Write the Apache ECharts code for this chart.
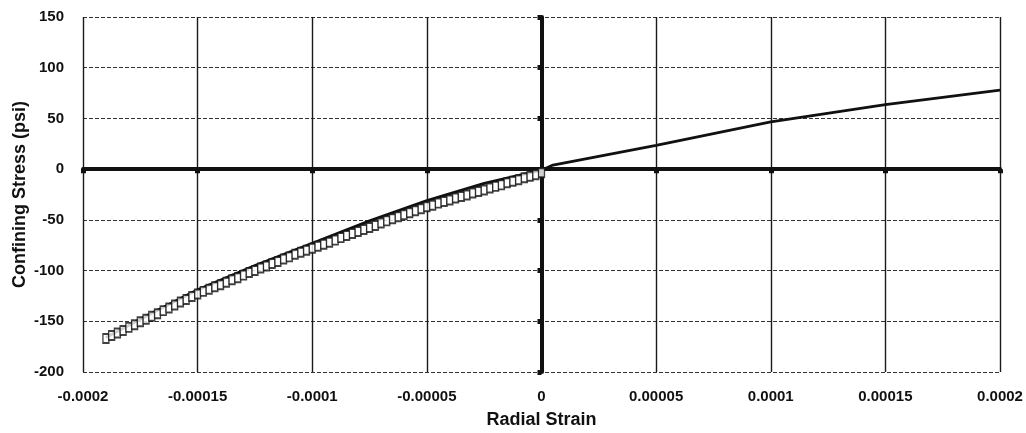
<!DOCTYPE html>
<html>
<head>
<meta charset="utf-8">
<script src="https://cdn.jsdelivr.net/npm/echarts@6/dist/echarts.min.js"></script>
<style>
  html, body { margin: 0; padding: 0; background: #fff; }
  #chart { width: 1026px; height: 433px; }
</style>
</head>
<body>
<div id="chart"></div>
<script>
// Tick labels for both axes
const xTickLabels = ['-0.0002', '-0.00015', '-0.0001', '-0.00005', '0', '0.00005', '0.0001', '0.00015', '0.0002'];
const yTickLabels = ['-200', '-150', '-100', '-50', '0', '50', '100', '150'];

// Fitted curve: radial strain vs confining stress (psi)
const curveStrain = [-0.00019, -0.00017, -0.00015, -0.000125, -0.0001, -0.000075, -0.00005, -0.000025, 0, 0.000005, 0.00005, 0.0001, 0.00015, 0.0002];
const curveStress = [-166, -142, -119, -95, -73, -51, -31, -14, -1, 4, 23.5, 46.5, 63.5, 78];

// Measured points (square markers)
const testStrain = [
  -0.00019, -0.0001875, -0.000185, -0.0001825, -0.00018, -0.0001775, -0.000175, -0.0001725,
  -0.00017, -0.0001675, -0.000165, -0.0001625, -0.00016, -0.0001575, -0.000155, -0.0001525,
  -0.00015, -0.0001475, -0.000145, -0.0001425, -0.00014, -0.0001375, -0.000135, -0.0001325,
  -0.00013, -0.0001275, -0.000125, -0.0001225, -0.00012, -0.0001175, -0.000115, -0.0001125,
  -0.00011, -0.0001075, -0.000105, -0.0001025, -0.0001, -0.0000975, -0.000095, -0.0000925,
  -0.00009, -0.0000875, -0.000085, -0.0000825, -0.00008, -0.0000775, -0.000075, -0.0000725,
  -0.00007, -0.0000675, -0.000065, -0.0000625, -0.00006, -0.0000575, -0.000055, -0.0000525,
  -0.00005, -0.0000475, -0.000045, -0.0000425, -0.00004, -0.0000375, -0.000035, -0.0000325,
  -0.00003, -0.0000275, -0.000025, -0.0000225, -0.00002, -0.0000175, -0.000015, -0.0000125,
  -0.00001, -0.0000075, -0.000005, -0.0000025, 0
];
const testStress = [
  -167, -164, -161.5, -159, -156, -153.5, -150.5, -148,
  -145, -142.5, -139.5, -137, -134, -131, -128.5, -125.5,
  -123, -120.5, -118.5, -116, -114, -111.5, -109, -107,
  -104.5, -102, -100, -97.5, -95.5, -93, -91, -88.5,
  -86.5, -84, -82, -80, -78, -76, -74, -72,
  -70, -67.5, -65.5, -63.5, -61.5, -59.5, -57.5, -55.5,
  -53, -51, -49, -47, -45, -43, -41, -39,
  -37, -35.5, -33.5, -32, -30.5, -28.5, -27, -25.5,
  -23.5, -22, -20.5, -18.5, -17, -15.5, -13.5, -12,
  -10.5, -8.5, -7, -5.5, -3.5
];

const X_MIN = -0.0002, X_MAX = 0.0002, X_STEP = 0.00005;
const Y_MIN = -200, Y_MAX = 150, Y_STEP = 50;

const FONT = '"Liberation Sans", Arial, Helvetica, sans-serif';
const INK = '#111';

function xLabel(v) {
  const i = Math.round((v - X_MIN) / X_STEP);
  return xTickLabels[i] !== undefined ? xTickLabels[i] : '';
}
function yLabel(v) {
  const i = Math.round((v - Y_MIN) / Y_STEP);
  return yTickLabels[i] !== undefined ? yTickLabels[i] : '';
}

const chart = echarts.init(document.getElementById('chart'), null, { renderer: 'canvas' });

chart.setOption({
  animation: false,
  backgroundColor: '#fff',
  grid: { left: 83, right: 26, top: 17, bottom: 61, containLabel: false, outerBoundsMode: 'none' },
  xAxis: [
    {
      type: 'value', min: X_MIN, max: X_MAX, interval: X_STEP, position: 'bottom',
      axisLine: { show: false, onZero: false },
      axisTick: { show: false },
      axisLabel: {
        formatter: xLabel, color: INK, fontFamily: FONT, fontWeight: 'bold', fontSize: 15, margin: 17
      },
      splitLine: { show: true, lineStyle: { color: '#1a1a1a', width: 1.4, type: 'solid' } },
      name: 'Radial Strain', nameLocation: 'middle', nameGap: 39, nameMoveOverlap: false,
      nameTextStyle: { color: INK, fontFamily: FONT, fontWeight: 'bold', fontSize: 18 }
    },
    {
      // heavy zero line with tick blobs
      type: 'value', min: X_MIN, max: X_MAX, interval: X_STEP, position: 'top',
      axisLine: { show: true, onZero: true, lineStyle: { color: INK, width: 4 } },
      axisTick: { show: true, inside: true, length: 4, lineStyle: { color: INK, width: 5 } },
      axisLabel: { show: false },
      splitLine: { show: false }
    }
  ],
  yAxis: [
    {
      type: 'value', min: Y_MIN, max: Y_MAX, interval: Y_STEP, position: 'left',
      axisLine: { show: false, onZero: false },
      axisTick: { show: false },
      axisLabel: {
        formatter: yLabel, color: INK, fontFamily: FONT, fontWeight: 'bold', fontSize: 15, margin: 19
      },
      splitLine: { show: true, lineStyle: { color: '#333', width: 1, type: [4, 2] } },
      name: 'Confining Stress (psi)', nameLocation: 'middle', nameGap: 54, nameMoveOverlap: false,
      nameTextStyle: { color: INK, fontFamily: FONT, fontWeight: 'bold', fontSize: 18 }
    },
    {
      type: 'value', min: Y_MIN, max: Y_MAX, interval: Y_STEP, position: 'right',
      axisLine: { show: true, onZero: true, lineStyle: { color: INK, width: 4 } },
      axisTick: { show: true, inside: true, length: 4, lineStyle: { color: INK, width: 5 } },
      axisLabel: { show: false },
      splitLine: { show: false }
    }
  ],
  series: [
    {
      name: 'Curve', type: 'line', xAxisIndex: 0, yAxisIndex: 0,
      data: curveStrain.map((x, i) => [x, curveStress[i]]),
      showSymbol: false, symbol: 'none',
      lineStyle: { color: INK, width: 2.8 },
      z: 3
    },
    {
      name: 'Test', type: 'scatter', xAxisIndex: 0, yAxisIndex: 0,
      data: testStrain.map((x, i) => [x, testStress[i]]),
      symbol: 'rect', symbolSize: [6, 9],
      itemStyle: { color: '#fff', borderColor: INK, borderWidth: 1.6 },
      z: 4
    }
  ]
});
</script>
</body>
</html>
